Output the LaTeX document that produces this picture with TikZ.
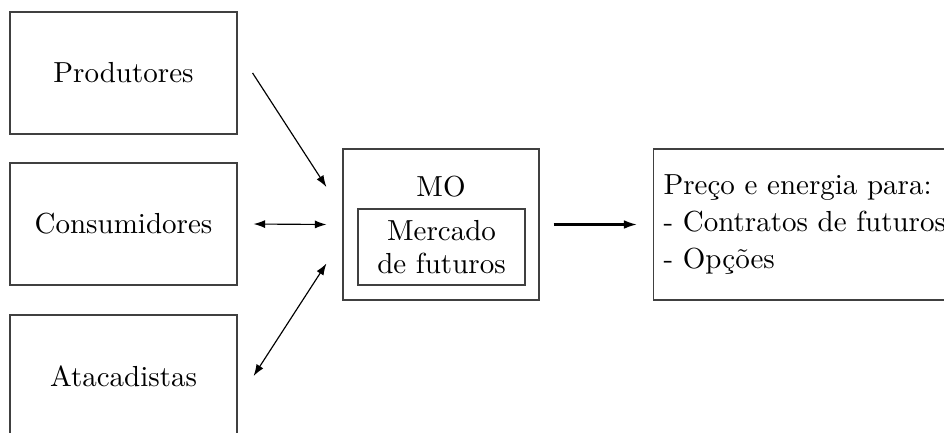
\documentclass[tikz,border=0pt]{standalone}
\usetikzlibrary{arrows.meta,calc}
\begin{document}
\begin{tikzpicture}[x=0.3448pt,y=-0.3448pt,
  box/.style={draw=black!75, line width=0.4pt, inner sep=0pt},
  arr/.style={-{Latex[length=4pt,width=2.8pt]}, line width=0.4pt},
  darr/.style={{Latex[length=4pt,width=2.8pt]}-{Latex[length=4pt,width=2.8pt]}, line width=0.4pt},
  thickarr/.style={-{Latex[length=4.5pt,width=3pt]}, line width=0.7pt}]
\useasboundingbox (0,0) rectangle (944,432);
\node[box, minimum width=227*0.3448pt, minimum height=122*0.3448pt] (prod) at (123.5,73) {Produtores};
\node[box, minimum width=227*0.3448pt, minimum height=122*0.3448pt] (cons) at (123.5,224) {Consumidores};
\node[box, minimum width=227*0.3448pt, minimum height=122*0.3448pt] (ata) at (123.5,376) {Atacadistas};
\node[box, minimum width=196*0.3448pt, minimum height=151*0.3448pt] (mo) at (441,224.5) {};
\node[anchor=base, inner sep=0pt] (molabel) at (441,196.7) {MO};
\node[box, minimum width=167*0.3448pt, minimum height=76*0.3448pt, align=center, font=\fontsize{10}{11.4}\selectfont] (fut) at (441.5,247) {Mercado\\de futuros};
\node[box, anchor=west, text width=300*0.3448pt, inner xsep=10*0.3448pt, minimum height=151*0.3448pt, align=left, font=\fontsize{10}{12.76}\selectfont] (out) at (653,224.5) {Preço e energia para:\\- Contratos de futuros\\- Opções};
\draw[arr] ($(prod.east)+(15,0)$) -- ($(mo.west)+(-16,-37.5)$);
\draw[darr] ($(cons.east)+(16,0)$) -- ($(mo.west)+(-16,0)$);
\draw[darr] ($(ata.east)+(16,0)$) -- ($(mo.west)+(-16,39)$);
\draw[thickarr] ($(mo.east)+(14,0)$) -- ($(out.west)+(-16,0)$);
\end{tikzpicture}
\end{document}
